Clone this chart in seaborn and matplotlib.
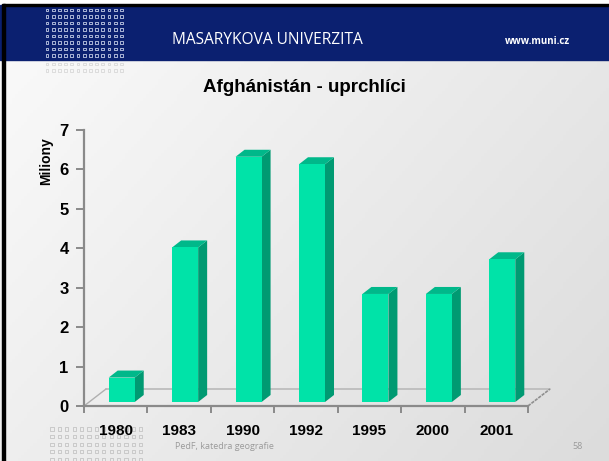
"""
Afghánistán - uprchlíci: slide-style pseudo-3D bar chart.
"""
import matplotlib
matplotlib.use("Agg")
import matplotlib.pyplot as plt
from matplotlib.patches import Polygon, Rectangle
import seaborn as sns
import numpy as np

years = ["1980", "1983", "1990", "1992", "1995", "2000", "2001"]
refugees_mil = [0.62, 3.92, 6.22, 6.03, 2.74, 2.74, 3.62]
y_ticks = [0, 1, 2, 3, 4, 5, 6, 7]

W, H = 609, 461
FRONT = "#00e3a8"
SIDE = "#009a72"
TOP = "#00b88a"
AXIS_GRAY = "#8a8a8a"

sns.set_style("white")
plt.rcParams["font.family"] = ["Liberation Sans", "DejaVu Sans"]
plt.rcParams["text.color"] = "black"
plt.rcParams["xtick.labelcolor"] = "black"
plt.rcParams["ytick.labelcolor"] = "black"

fig = plt.figure(figsize=(W / 100, H / 100), dpi=100)

# slide background in pixel coordinates
bg = fig.add_axes([0, 0, 1, 1], zorder=0)
bg.set_xlim(0, W)
bg.set_ylim(H, 0)
bg.axis("off")
gx = np.linspace(0, 1, 200)
gy = np.linspace(0, 1, 150)
grad = 0.6 * gx[None, :] + 0.4 * gy[:, None]
bg.imshow(grad, cmap=matplotlib.colors.LinearSegmentedColormap.from_list(
    "slide", ["#fbfbfb", "#dcdcdc"]), extent=(0, W, H, 0), aspect="auto")
bg.add_patch(Rectangle((0, 0), W, 5, color="white", zorder=2))
bg.add_patch(Rectangle((0, 5), W, 55, color="#0b2070", zorder=2))
bg.add_patch(Rectangle((3, 4), W, 2.5, color="black", zorder=3))
bg.add_patch(Rectangle((2, 4), 2.5, H, color="black", zorder=3))

# dotted university pattern
hx, hy = np.meshgrid(np.arange(47, 125, 6.2), np.arange(10, 60, 6.5))
bg.scatter(hx.ravel(), hy.ravel(), s=4, marker="s", facecolor="none",
           edgecolor="#c4cde6", linewidth=0.6, zorder=4)
fx_, fy_ = np.meshgrid(np.arange(47, 125, 6.2), np.arange(64, 75, 6.5))
bg.scatter(fx_.ravel(), fy_.ravel(), s=4, marker="s", facecolor="none",
           edgecolor="#d8d8d8", linewidth=0.6, zorder=4)
bx, by = np.meshgrid(np.arange(52, 142, 7.4), np.arange(429, 462, 7.6))
bg.scatter(bx.ravel(), by.ravel(), s=5, marker="s", facecolor="none",
           edgecolor="#c4c4c4", linewidth=0.6, zorder=4)

bg.text(172, 40, "MASARYKOVA UNIVERZITA", color="white", fontsize=11.2,
        family="Open Sans", va="center", ha="left", zorder=5)
bg.text(570, 41, "www.muni.cz", color="white", fontsize=7, fontweight="bold",
        family="Open Sans", va="center", ha="right", zorder=5)
bg.text(304, 88, "Afghánistán - uprchlíci", fontsize=13.5, fontweight="bold",
        ha="center", va="center", zorder=5)
bg.text(46, 161, "Miliony", fontsize=10, fontweight="bold", rotation=90,
        ha="center", va="center", zorder=5)
bg.text(175, 446, "PedF, katedra geografie", fontsize=6.5, color="#9a9a9a",
        family="Open Sans", ha="left", va="center", zorder=5)
bg.text(583, 446, "58", fontsize=6.5, color="#9a9a9a", family="Open Sans",
        ha="right", va="center", zorder=5)

# chart axes = front plane of the 3D box
x0, x1, y0, y1 = 84, 528, 406, 130
ax = fig.add_axes([x0 / W, (H - y0) / H, (x1 - x0) / W, (y0 - y1) / H], zorder=1)
ax.patch.set_alpha(0)

sns.barplot(x=years, y=refugees_mil, color=FRONT, saturation=1, width=0.41,
            ax=ax, zorder=3)
ax.set_xlim(-0.5, len(years) - 0.5)
ax.set_ylim(0, 7)

ux = len(years) / (x1 - x0)   # data units per pixel
uy = 7 / (y0 - y1)

# bar depth and placement inside the floor
off_x, off_y = 6 * ux, 4 * uy
dep_x, dep_y = 9 * ux, 7 * uy
for bar in ax.patches:
    bx0 = bar.get_x() + off_x
    h = bar.get_height()
    bw = bar.get_width()
    bar.set_x(bx0)
    bar.set_y(off_y)
    bar.set_edgecolor("none")
    bx1 = bx0 + bw
    ax.add_patch(Polygon([(bx1, off_y), (bx1 + dep_x, off_y + dep_y),
                          (bx1 + dep_x, off_y + dep_y + h), (bx1, off_y + h)],
                         color=SIDE, lw=0, zorder=2, clip_on=False))
    ax.add_patch(Polygon([(bx0, off_y + h), (bx1, off_y + h),
                          (bx1 + dep_x, off_y + h + dep_y),
                          (bx0 + dep_x, off_y + h + dep_y)],
                         color=TOP, lw=0, zorder=2, clip_on=False))

# floor outline
fl_x, fl_y = 22 * ux, 17 * uy
left, right = -0.5, len(years) - 0.5
ax.plot([left + fl_x, right + fl_x], [fl_y, fl_y], color="#bdbdbd", lw=1.3,
        zorder=1, clip_on=False)
ax.plot([left, left + fl_x], [0, fl_y], color="#b0b0b0", lw=1, zorder=1,
        clip_on=False)
ax.plot([right, right + fl_x], [0, fl_y], color="#8f8f8f", lw=1.2,
        ls=(0, (2, 0.6)), zorder=1, clip_on=False)

sns.despine(ax=ax, top=True, right=True)
for side in ["left", "bottom"]:
    ax.spines[side].set_color(AXIS_GRAY)
    ax.spines[side].set_linewidth(1.6)

ax.set_yticks(y_ticks)
ax.set_yticklabels([str(t) for t in y_ticks], fontsize=12, fontweight="bold")
ax.tick_params(axis="y", length=6, width=1.4, color=AXIS_GRAY, pad=5,
               left=True, direction="out")

ax.set_xticks(np.arange(len(years) + 1) - 0.5)
ax.set_xticklabels([])
ax.set_xticks(np.arange(len(years)), minor=True)
ax.set_xticklabels(years, minor=True, fontsize=11, fontweight="bold")
ax.tick_params(axis="x", which="major", length=5, width=1.4, color=AXIS_GRAY,
               bottom=True, direction="out")
ax.tick_params(axis="x", which="minor", length=0, pad=13)
ax.set_xlabel("")
ax.set_ylabel("")

fig.savefig("out.png", dpi=100)
